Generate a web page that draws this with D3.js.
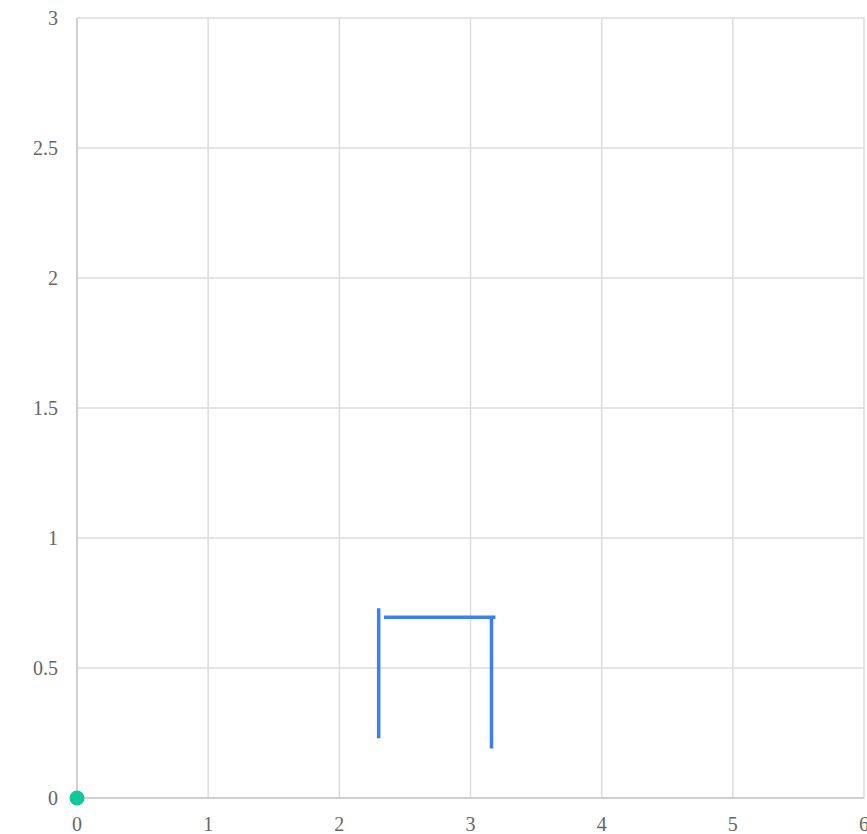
<!DOCTYPE html>
<html><head><meta charset="utf-8">
<script src="https://cdn.jsdelivr.net/npm/d3@7"></script>
<style>body{margin:0;background:#fff;}</style>
</head><body>
<svg id="c" width="867" height="834"></svg>
<script>
const xTicks = [0,1,2,3,4,5,6];
const yTicks = [0,0.5,1,1.5,2,2.5,3];
// segments: [x1,y1,x2,y2]
const segX1 = [2.30, 2.34, 3.16];
const segY1 = [0.73, 0.695, 0.69];
const segX2 = [2.30, 3.19, 3.16];
const segY2 = [0.23, 0.695, 0.19];
const pointX = [0];
const pointY = [0];

const FONT = "'Liberation Serif','Times New Roman',Times,serif";
const svg = d3.select("#c");
const x = d3.scaleLinear().domain([0,6]).range([77,864]);
const y = d3.scaleLinear().domain([0,3]).range([798,18]);

const g = svg.append("g");
g.selectAll(".vg").data(xTicks).enter().append("line")
  .attr("x1",d=>x(d)).attr("x2",d=>x(d)).attr("y1",y(0)).attr("y2",y(3))
  .attr("stroke","#dcdcdc").attr("stroke-width",1.5);
g.selectAll(".hg").data(yTicks).enter().append("line")
  .attr("x1",x(0)).attr("x2",x(6)).attr("y1",d=>y(d)).attr("y2",d=>y(d))
  .attr("stroke","#dcdcdc").attr("stroke-width",1.5);
g.append("line").attr("x1",x(0)).attr("x2",x(6)).attr("y1",y(0)).attr("y2",y(0)).attr("stroke","#c8c8c8").attr("stroke-width",1.5);
g.append("line").attr("x1",x(0)).attr("x2",x(0)).attr("y1",y(0)).attr("y2",y(3)).attr("stroke","#c8c8c8").attr("stroke-width",1.5);

g.selectAll(".xl").data(xTicks).enter().append("text")
  .attr("x",d=>x(d)).attr("y",y(0)+33).attr("text-anchor","middle")
  .attr("font-family",FONT).attr("font-size",20).attr("fill","#666").text(d=>d);
g.selectAll(".yl").data(yTicks).enter().append("text")
  .attr("x",x(0)-19).attr("y",d=>y(d)+7).attr("text-anchor","end")
  .attr("font-family",FONT).attr("font-size",20).attr("fill","#666").text(d=>d);

const segs = segX1.map((v,i)=>({x1:v,y1:segY1[i],x2:segX2[i],y2:segY2[i]}));
g.selectAll(".seg").data(segs).enter().append("line")
  .attr("x1",d=>x(d.x1)).attr("y1",d=>y(d.y1)).attr("x2",d=>x(d.x2)).attr("y2",d=>y(d.y2))
  .attr("stroke","#3b80f0").attr("stroke-width",3.5);

g.selectAll(".pt").data(pointX.map((v,i)=>[v,pointY[i]])).enter().append("circle")
  .attr("cx",d=>x(d[0])).attr("cy",d=>y(d[1])).attr("r",7.5).attr("fill","#0fc99b");
</script>
</body></html>
